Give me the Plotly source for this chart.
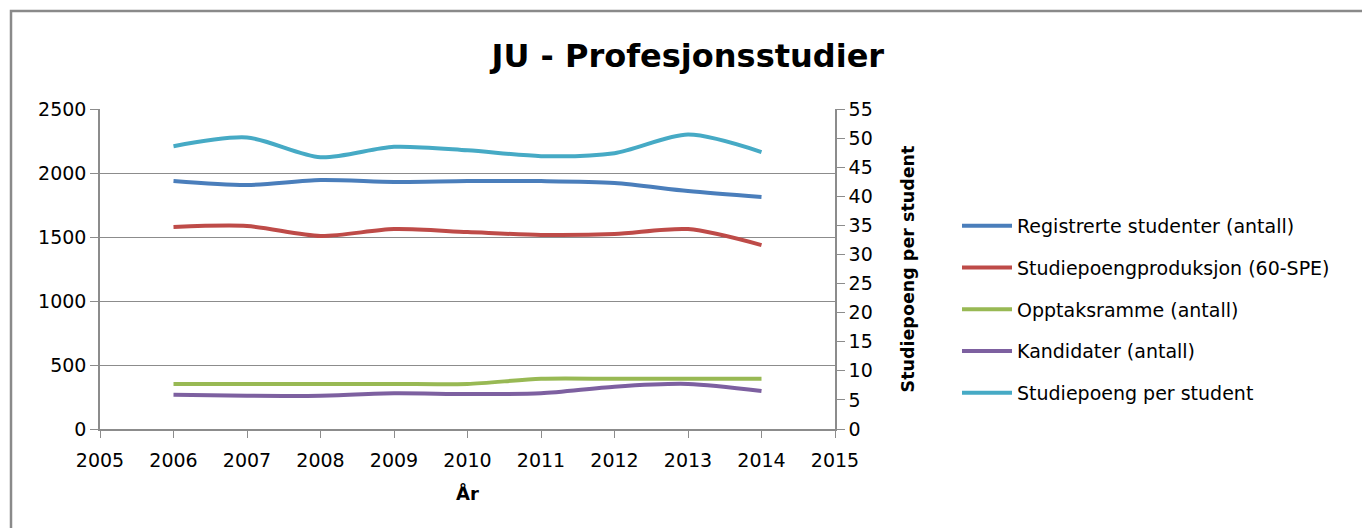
import plotly.graph_objects as go

years = [2006, 2007, 2008, 2009, 2010, 2011, 2012, 2013, 2014]
registrerte = [1937, 1906, 1945, 1930, 1937, 1937, 1922, 1859, 1812]
produksjon = [1578, 1586, 1508, 1562, 1539, 1516, 1523, 1562, 1437]
opptak = [352, 352, 352, 352, 352, 392, 392, 392, 392]
kandidater = [268, 260, 260, 279, 273, 279, 331, 352, 297]
sp_per_student = [48.6, 50.1, 46.7, 48.5, 47.9, 46.9, 47.4, 50.6, 47.6]

names = ["Registrerte studenter (antall)", "Studiepoengproduksjon (60-SPE)",
         "Opptaksramme (antall)", "Kandidater (antall)", "Studiepoeng per student"]
colors = ["#4A7EBB", "#BE4B48", "#98B954", "#7D60A0", "#46AAC5"]
series = [registrerte, produksjon, opptak, kandidater, sp_per_student]
axes = ["y", "y", "y", "y", "y2"]

FONT = "DejaVu Sans"
GRID = "#8C8C8C"

fig = go.Figure()
for i, (n, c, s, a) in enumerate(zip(names, colors, series, axes)):
    fig.add_trace(go.Scatter(
        x=years, y=s, name=n, yaxis=a, mode="lines",
        line=dict(color=c, width=4, shape="spline", smoothing=0.8),
        legendgroup=f"g{i}",
    ))

W, H = 1362, 528
L, R, T, B = 100, 835, 109, 429

fig.update_layout(
    width=W, height=H,
    margin=dict(l=L, r=W - R, t=T, b=H - B),
    paper_bgcolor="white", plot_bgcolor="white",
    font=dict(family=FONT, size=19, color="#000000"),
    title=dict(text="<b>JU - Profesjonsstudier</b>", font=dict(family=FONT, size=32, color="#000"),
               x=0.505, xref="container", xanchor="center",
               y=1 - 56 / H, yref="container", yanchor="middle"),
    xaxis=dict(range=[2005, 2015], dtick=1, tick0=2005, showgrid=False, zeroline=False,
               showline=True, linecolor=GRID, linewidth=1.5, ticks="outside", ticklen=7,
               tickcolor=GRID, tickfont=dict(size=19), ticklabelstandoff=6,
               title=dict(text="<b>År</b>", font=dict(size=18), standoff=18)),
    yaxis=dict(range=[0, 2500], dtick=500, showgrid=True, gridcolor=GRID, gridwidth=1.3,
               zeroline=False, showline=True, linecolor=GRID, linewidth=1.5,
               ticks="outside", ticklen=8, tickcolor=GRID, tickfont=dict(size=19)),
    yaxis2=dict(range=[0, 55], dtick=5, overlaying="y", side="right", showgrid=False,
                zeroline=False, showline=True, linecolor=GRID, linewidth=1.5,
                ticks="outside", ticklen=8, tickcolor=GRID, tickfont=dict(size=19),
                title=dict(text="<b>Studiepoeng per student</b>", font=dict(size=17.5), standoff=30)),
    legend=dict(x=(957 - L) / (R - L), xanchor="left", y=(B - 207) / (B - T), yanchor="top",
                font=dict(size=19), itemwidth=50, tracegroupgap=14, traceorder="grouped",
                bgcolor="rgba(0,0,0,0)"),
    showlegend=True,
)

# outer chart frame (top and left edges visible in the crop)
fig.add_shape(type="rect", xref="paper", yref="paper",
              x0=(11 - L) / (R - L), x1=(W + 20 - L) / (R - L),
              y0=(B - (H + 20)) / (B - T), y1=(B - 11) / (B - T),
              line=dict(color="#8A8A8A", width=2.5), fillcolor="rgba(0,0,0,0)", layer="below")

fig.write_html("out.html", config={"displayModeBar": False},
               post_script="document.body.style.margin='0';")
